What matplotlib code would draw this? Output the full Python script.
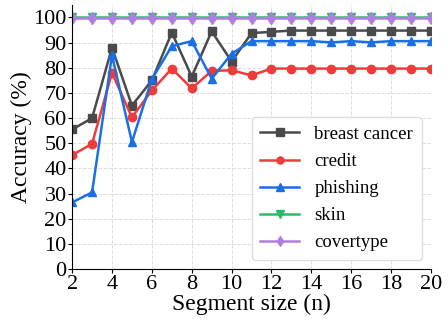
import numpy as np
import matplotlib.pyplot as plt

plt.rcParams['font.family'] = ['Liberation Serif', 'DejaVu Serif']

segment = list(range(2, 21))
breast_cancer = [55.5, 60, 88, 65, 75, 94, 76.5, 94.5, 82.5, 93.8, 94.3,
                 94.8, 94.8, 94.8, 94.8, 94.8, 94.8, 94.8, 94.8]
credit = [45.3, 49.8, 78, 60.3, 71, 79.7, 71.8, 78.8, 79, 77, 79.7,
          79.7, 79.7, 79.7, 79.7, 79.7, 79.7, 79.7, 79.7]
phishing = [26.5, 30.5, 85, 50.5, 75.5, 88.6, 90.6, 75.7, 85.6, 90.6, 90.6,
            90.6, 90.6, 90.1, 90.6, 90.1, 90.6, 90.6, 90.6]
skin = [100] * 19
covertype = [99.9] * 19

series = [
    ('breast cancer', breast_cancer, '#4a4a4a', 's'),
    ('credit', credit, '#f03b3b', 'o'),
    ('phishing', phishing, '#1a6fe6', '^'),
    ('skin', skin, '#2eb86a', 'v'),
    ('covertype', covertype, '#b07ee0', 'd'),
]

fig = plt.figure(figsize=(4.48, 3.27), dpi=100)
ax = fig.add_axes([0.161, 0.177, 0.801, 0.808])

for name, vals, color, marker in series:
    ax.plot(segment, vals, color=color, marker=marker, linewidth=1.8,
            markersize=6, label=name)

ax.set_xlim(2, 20)
ax.set_ylim(0, 105)
ax.set_xticks(range(2, 21, 2))
ax.set_yticks(range(0, 101, 10))
ax.tick_params(labelsize=16, length=3, pad=1)
ax.grid(True, linestyle='--', color='#dddddd', linewidth=0.7)
ax.spines['top'].set_visible(False)
ax.spines['right'].set_visible(False)
ax.set_xlabel('Segment size (n)', fontsize=17, labelpad=0)
ax.set_ylabel('Accuracy (%)', fontsize=17, labelpad=1)
ax.legend(loc='lower right', fontsize=13.5, handlelength=2.1, markerscale=0.85,
          borderpad=0.45, labelspacing=0.53, framealpha=1, edgecolor='#dddddd')

plt.savefig('out.png', dpi=100)
